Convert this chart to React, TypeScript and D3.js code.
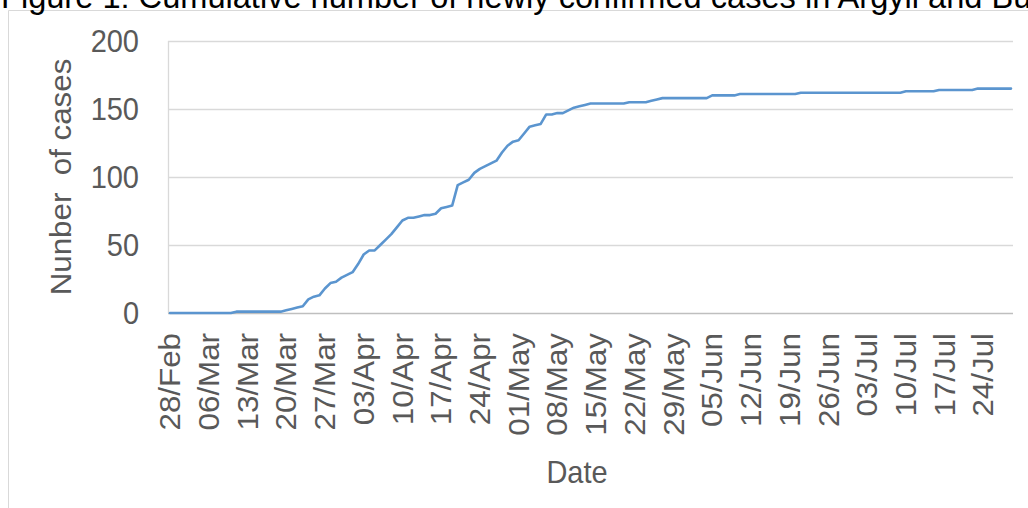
import React, { useEffect, useRef } from "react";
import * as d3 from "d3";

const startDate = new Date(2020, 1, 28);
const cumulativeCases = [
  0, 0, 0, 0, 0, 0, 0, 0, 0, 0, 0, 0,
  1, 1, 1, 1, 1, 1, 1, 1, 1,
  2, 3, 4, 5, 10, 12, 13, 18, 22, 23, 26, 28, 30, 36, 43, 46, 46, 50, 54, 58,
  63, 68, 70, 70, 71, 72, 72, 73, 77, 78, 79, 94, 96, 98, 103, 106, 108, 110, 112, 118,
  123, 126, 127, 132, 137, 138, 139, 146, 146, 147, 147, 149, 151, 152, 153,
  154, 154, 154, 154, 154, 154, 154,
  155, 155, 155, 155,
  156, 157,
  158, 158, 158, 158, 158, 158, 158, 158, 158,
  160, 160, 160, 160, 160,
  161, 161, 161, 161, 161, 161, 161, 161, 161, 161, 161,
  162, 162, 162, 162, 162, 162, 162, 162, 162, 162, 162, 162, 162, 162, 162, 162, 162, 162, 162,
  163, 163, 163, 163, 163, 163,
  164, 164, 164, 164, 164, 164, 164,
  165, 165, 165, 165, 165, 165, 165,
];
const xTickLabels = [
  "28/Feb", "06/Mar", "13/Mar", "20/Mar", "27/Mar", "03/Apr", "10/Apr", "17/Apr",
  "24/Apr", "01/May", "08/May", "15/May", "22/May", "29/May", "05/Jun", "12/Jun",
  "19/Jun", "26/Jun", "03/Jul", "10/Jul", "17/Jul", "24/Jul",
];
const yTicks = [0, 50, 100, 150, 200];
const titleText = "Figure 1: Cumulative number of newly confirmed cases in Argyll and Bute";
const yTitle = "Nunber  of cases";
const xTitle = "Date";

const W = 1028;
const H = 508;
const FONT = "'Liberation Sans', Arial, sans-serif";
const SY = 1.08;

export default function App() {
  const ref = useRef<SVGSVGElement>(null);
  useEffect(() => {
    const svg = d3.select(ref.current);
    svg.selectAll("*").remove();

    const data = cumulativeCases.map((v, i) => ({ date: d3.timeDay.offset(startDate, i), v }));
    const x = d3
      .scaleTime()
      .domain([startDate, data[data.length - 1].date])
      .range([170, 1011]);
    const y = d3.scaleLinear().domain([0, 200]).range([313, 41]);

    // frame
    svg.append("line").attr("x1", 8.5).attr("x2", 8.5).attr("y1", 10.5).attr("y2", H)
      .attr("stroke", "#d9d9d9").attr("stroke-width", 1);
    svg.append("line").attr("x1", 8.5).attr("x2", W).attr("y1", 10.5).attr("y2", 10.5)
      .attr("stroke", "#d9d9d9").attr("stroke-width", 1);

    // title
    svg.append("text").attr("x", 1).attr("y", 8).attr("font-family", FONT)
      .attr("font-size", 32.6).attr("fill", "#000").text(titleText);

    // gridlines
    svg.append("g").selectAll("line").data(yTicks).join("line")
      .attr("x1", 168).attr("x2", 1013)
      .attr("y1", (d) => Math.round(y(d)) + 0.5).attr("y2", (d) => Math.round(y(d)) + 0.5)
      .attr("stroke", (d) => (d === 0 ? "#bfbfbf" : "#d9d9d9")).attr("stroke-width", 1.3);
    svg.append("line").attr("x1", 168.5).attr("x2", 168.5).attr("y1", y(200)).attr("y2", y(0))
      .attr("stroke", "#d9d9d9").attr("stroke-width", 1.3);

    // y tick labels
    svg.append("g").selectAll("g").data(yTicks).join("g")
      .attr("transform", (d) => `translate(139,${y(d)}) scale(1,${SY})`)
      .append("text").attr("text-anchor", "end").attr("dy", "0.35em")
      .attr("font-family", FONT).attr("font-size", 29).attr("fill", "#595959")
      .text((d) => String(d));

    // x tick labels
    svg.append("g").selectAll("g").data(xTickLabels).join("g")
      .attr("transform", (_d, i) => `translate(${x(d3.timeDay.offset(startDate, i * 7))},333) scale(1,${SY}) rotate(-90)`)
      .append("text").attr("text-anchor", "end").attr("dy", "0.35em")
      .attr("font-family", FONT).attr("font-size", 29).attr("fill", "#595959")
      .text((d) => d);

    // axis titles
    svg.append("g").attr("transform", `translate(61,177) scale(1,${SY}) rotate(-90)`)
      .append("text").attr("text-anchor", "middle").attr("dy", "0.35em")
      .attr("font-family", FONT).attr("font-size", 29).attr("fill", "#595959")
      .attr("xml:space", "preserve").style("white-space", "pre")
      .text(yTitle);
    svg.append("g").attr("transform", `translate(577,483) scale(1,${SY})`)
      .append("text").attr("text-anchor", "middle")
      .attr("font-family", FONT).attr("font-size", 29).attr("fill", "#595959")
      .text(xTitle);

    // line
    const line = d3.line<{ date: Date; v: number }>().x((d) => x(d.date)).y((d) => y(d.v));
    svg.append("path").datum(data).attr("d", line).attr("fill", "none")
      .attr("stroke", "#5b95cf").attr("stroke-width", 2.6)
      .attr("stroke-linejoin", "round").attr("stroke-linecap", "round");
  }, []);

  return (
    <svg
      ref={ref}
      width={W}
      height={H}
      style={{ position: "absolute", left: 0, top: 0, background: "#fff", overflow: "hidden" }}
    />
  );
}
